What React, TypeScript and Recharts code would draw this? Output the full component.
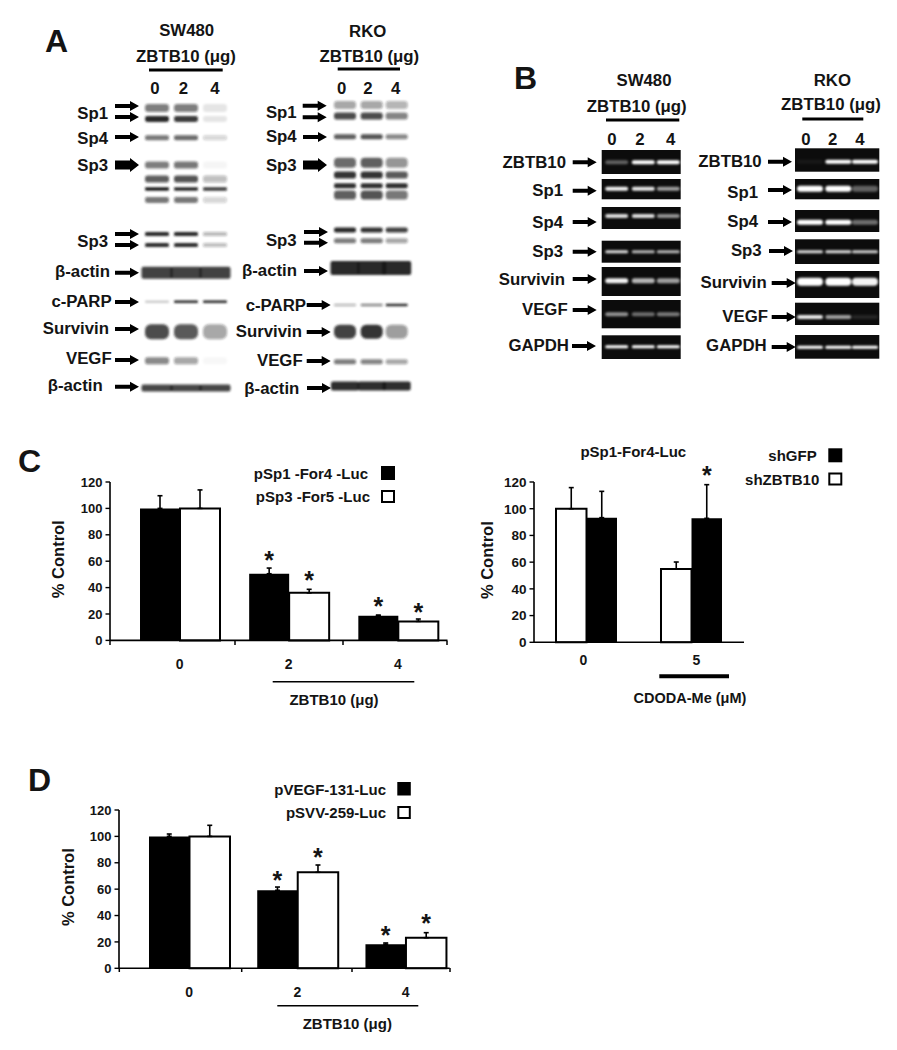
import React from 'react';
import { BarChart, Bar, XAxis, YAxis, ErrorBar, LabelList } from 'recharts';

const FONT = '"Liberation Sans", Arial, sans-serif';
const INK = '#141414';

// ---------- chart data ----------
const yTicks = [0, 20, 40, 60, 80, 100, 120];

const doseCategories = ['0', '2', '4'];
const cBlack = [100, 50.5, 18.7];
const cBlackErr = [9.6, 4.3, 0.5];
const cBlackStar = [null, 65, 30];
const cWhite = [100, 36, 14.4];
const cWhiteErr = [14, 2.7, 1.8];
const cWhiteStar = [null, 49.3, 25.3];

const cdodaCategories = ['0', '5'];
const c2White = [100, 54.9];
const c2WhiteErr = [15.8, 5.2];
const c2WhiteStar = [null, null];
const c2Black = [93.3, 92.8];
const c2BlackErr = [19.7, 25.2];
const c2BlackStar = [null, 128.7];

const dBlack = [100, 59.1, 18.2];
const dBlackErr = [1.8, 2.5, 1];
const dBlackStar = [null, 70.5, 28.8];
const dWhite = [100, 72.8, 23.2];
const dWhiteErr = [8.4, 5.5, 3.8];
const dWhiteStar = [null, 88.2, 38.2];

// ---------- blot band intensities (lanes 0, 2, 4); optional last item widens the band ----------
type BandRow = [number, number, number[], number?];
const aLeftBands: BandRow[] = [
  [108, 8, [0.55, 0.55, 0.1]], [119, 6, [0.95, 0.85, 0.1]], [137.7, 5, [0.6, 0.65, 0.18]],
  [165, 7, [0.55, 0.6, 0.04]], [179, 7, [0.7, 0.75, 0.28]], [189, 3.5, [1, 0.95, 0.85]], [200, 6, [0.6, 0.6, 0.18]],
  [234, 4, [0.95, 0.95, 0.3]], [245, 4, [0.9, 0.9, 0.28]], [272.7, 12, [0.82, 0.82, 0.82], 31],
  [301.7, 2.5, [0.2, 0.95, 0.95]], [331.7, 15, [0.78, 0.72, 0.38]], [360.7, 7, [0.5, 0.38, 0.03]], [388, 7, [0.8, 0.8, 0.8], 31],
];
const aRightBands: BandRow[] = [
  [105, 8, [0.38, 0.38, 0.32]], [116, 7, [0.78, 0.78, 0.52]], [136.7, 5, [0.7, 0.75, 0.5]],
  [162.7, 10, [0.65, 0.7, 0.45]], [175, 7, [0.88, 0.88, 0.72]], [185.7, 5, [0.9, 0.9, 0.9]], [195, 9, [0.7, 0.75, 0.6]],
  [230, 5, [0.92, 0.88, 0.82]], [240.7, 5, [0.58, 0.58, 0.38]], [268, 14, [0.92, 0.92, 0.92], 29],
  [305, 2.5, [0.3, 0.5, 0.9]], [331.7, 14, [0.82, 0.88, 0.42]], [361.7, 5, [0.58, 0.52, 0.38]], [386, 9, [0.9, 0.9, 0.9], 28],
];
// [top, bottom, band y, band h, intensities]
const bLeftGels: [number, number, number, number, number[]][] = [
  [150, 174, 162.3, 4, [0.35, 1, 1]], [179, 199.3, 188.7, 4, [0.95, 0.9, 0.6]], [207, 229, 216, 4, [0.85, 0.85, 0.55]],
  [240.7, 262.7, 251.7, 3, [0.85, 0.7, 0.7]], [267, 296, 280.7, 5, [0.95, 0.7, 0.6]], [300, 328.3, 314.3, 4, [0.55, 0.4, 0.45]],
  [335.3, 359, 346.7, 3, [1, 1, 1]],
];
const bRightGels: [number, number, number, number, number[]][] = [
  [148.3, 171.7, 161.7, 4, [0.05, 1, 1]], [179, 199.3, 188.7, 6, [1, 1, 0.35]], [210, 232, 222.3, 5, [1, 1, 0.4]],
  [239.3, 264, 251.7, 3, [0.85, 0.85, 0.8]], [271, 298, 281.7, 8, [1, 1, 0.95]], [302.7, 325, 317, 4, [0.9, 0.6, 0.1]],
  [335, 358.7, 347.3, 3, [1, 1, 1]],
];

// ---------- labels with arrows: text, right edge, text y, arrow x, arrow y, thick? ----------
type Lab = [string, number, number, number, number[], boolean?];
const aLeftLabels: Lab[] = [
  ['Sp1', 108, 113, 115, [106, 117]], ['Sp4', 108, 138, 115, [137]], ['Sp3', 108, 165, 115, [165], true],
  ['Sp3', 108, 241.7, 115, [234, 245]], ['β-actin', 110, 271.7, 115, [272.7]], ['c-PARP', 111.7, 301.7, 115, [302]],
  ['Survivin', 109, 328, 115, [329]], ['VEGF', 111.7, 358, 115, [360]], ['β-actin', 102.7, 385, 115, [386.7]],
];
const aRightLabels: Lab[] = [
  ['Sp1', 296.7, 112, 302.7, [105.7, 117.3]], ['Sp4', 296.7, 136.7, 303, [137]], ['Sp3', 296.7, 165, 303, [165], true],
  ['Sp3', 296.7, 240, 304, [232, 242.7]], ['β-actin', 297, 270.7, 304, [271]], ['c-PARP', 306, 305, 306.7, [305]],
  ['Survivin', 302, 331.7, 306.7, [332]], ['VEGF', 302.7, 360.7, 306.7, [361]], ['β-actin', 299.3, 388, 307, [388]],
];
const bLeftLabels: Lab[] = [
  ['ZBTB10', 566, 162.3, 572.7, [162.3]], ['Sp1', 563, 190.7, 572.7, [190.7]], ['Sp4', 563, 222, 572.7, [222]],
  ['Sp3', 563, 251.7, 572.7, [251.7]], ['Survivin', 565, 279, 572.7, [279]], ['VEGF', 567.7, 309, 572.7, [310]],
  ['GAPDH', 569, 345, 572, [346]],
];
const bRightLabels: Lab[] = [
  ['ZBTB10', 761.7, 161, 768, [161.7]], ['Sp1', 758, 192, 768, [190]], ['Sp4', 758, 221, 768, [222]],
  ['Sp3', 761.7, 250.7, 769, [251]], ['Survivin', 766.7, 282.7, 771.7, [283]], ['VEGF', 768, 316.7, 771.7, [317]],
  ['GAPDH', 766.7, 345.7, 771.7, [347]],
];

// ---------- small svg helpers ----------
const T = ({ x, y, s = 16.8, a = 'middle', children }: any) => (
  <text x={x} y={y} fontSize={s} fontWeight={700} fontFamily={FONT} fill={INK} textAnchor={a} dominantBaseline="central">
    {children}
  </text>
);
const Letter = ({ x, y, children }: any) => (
  <text x={x} y={y} fontSize={32} fontWeight={700} fontFamily={FONT} fill={INK}>{children}</text>
);
const Arrow = ({ x, y, thick }: any) => {
  const sh = thick ? 4.5 : 2;
  const hd = thick ? 7 : 5;
  const end = x + 24;
  const neck = end - 9;
  return (
    <polygon fill="#000" points={`${x},${y - sh} ${neck},${y - sh} ${neck},${y - hd} ${end},${y} ${neck},${y + hd} ${neck},${y + sh} ${x},${y + sh}`} />
  );
};
const Labels = ({ list }: { list: Lab[] }) => (
  <>
    {list.map(([t, r, y, ax, ays, thick], i) => (
      <g key={i}>
        <T x={r} y={y} a="end">{t}</T>
        {ays.map((ay, j) => <Arrow key={j} x={ax} y={ay} thick={thick} />)}
      </g>
    ))}
  </>
);
const Head = ({ name, nx, ny, zx, zy, x1, x2, ly, lanes, laneY }: any) => (
  <>
    <T x={nx} y={ny}>{name}</T>
    <T x={zx} y={zy}>ZBTB10 (μg)</T>
    <line x1={x1} x2={x2} y1={ly} y2={ly} stroke="#000" strokeWidth={3} />
    {doseCategories.map((c, i) => <T key={c} x={lanes[i]} y={laneY}>{c}</T>)}
  </>
);
const WesternBands = ({ rows, lanes, w }: any) => (
  <g filter="url(#soft)">
    {rows.map(([y, h, ints, wide]: any, i: number) =>
      ints.map((v: number, j: number) => {
        const bw = wide || w;
        return <rect key={`${i}-${j}`} x={lanes[j] - bw / 2} y={y - h / 2} width={bw} height={h} rx={wide ? 2 : h / 2.5} fill="#1a1a1a" opacity={v} />;
      }),
    )}
  </g>
);
const Gels = ({ rows, lanes, x1, x2, w }: any) => (
  <>
    {rows.map(([t, b]: any, i: number) => (
      <rect key={i} x={x1} y={t} width={x2 - x1} height={b - t} fill="#0c0c0c" />
    ))}
    <g filter="url(#glow)">
      {rows.map(([, , y, h, ints]: any, i: number) =>
        ints.map((v: number, j: number) => (
          <rect key={`${i}-${j}`} x={lanes[j] - w / 2} y={y - h / 2} width={w} height={h} rx={h / 2} fill="#fff" opacity={v} />
        )),
      )}
    </g>
  </>
);
const Swatch = ({ x, y, w, h, fill }: any) => (
  <rect x={x + 1} y={y + 1} width={w - 2} height={h - 2} fill={fill} stroke="#000" strokeWidth={2} />
);

// ---------- bar chart ----------
const starContent = (bottomOf: () => number, pxPerUnit: number) => (p: any) => {
  if (p.value == null) return null;
  const cx = p.x + p.width / 2;
  return (
    <text x={cx} y={bottomOf() - p.value * pxPerUnit + 14} textAnchor="middle" fontSize={25} fontWeight={700} fontFamily={FONT} fill={INK}>
      *
    </text>
  );
};

function Panel({ cats, first, second, left, plotTop, plotW, plotH, axisW, pad, barSize, fs, xfs, labelDy, nudges }: any) {
  const top = 34;
  const rows = cats.map((c: string, i: number) => ({
    dose: c,
    a: first.values[i], aErr: [0, first.err[i]], aStar: first.star[i],
    b: second.values[i], bErr: [0, second.err[i]], bStar: second.star[i],
  }));
  const ppu = plotH / 120;
  const bottomOf = () => top + plotH;
  const tick = (p: any) => (
    <text x={p.x + (nudges ? nudges[p.index] : 0)} y={p.y + labelDy} textAnchor="middle" dominantBaseline="central"
      fontSize={xfs} fontWeight={700} fontFamily={FONT} fill={INK}>
      {p.payload.value}
    </text>
  );
  return (
    <div style={{ position: 'absolute', left: left - axisW, top: plotTop - top }}>
      <BarChart width={axisW + plotW + 24} height={top + plotH + 40} data={rows} barGap={0} barSize={barSize}
        margin={{ top, right: 24, left: 0, bottom: 0 }} style={{ overflow: 'visible' }}>
        <XAxis dataKey="dose" height={40} axisLine={{ stroke: '#000', strokeWidth: 1.6 }} tickLine={false} tickSize={0} tickMargin={0}
          padding={pad} tick={tick} interval={0} />
        <YAxis width={axisW} domain={[0, 120]} ticks={yTicks} interval={0} axisLine={{ stroke: '#000', strokeWidth: 1.6 }}
          tickLine={{ stroke: '#000', strokeWidth: 1.4 }} tickSize={4.5} tickMargin={3}
          tick={{ fontSize: fs, fontWeight: 700, fontFamily: FONT, fill: INK }}
          label={{ value: '% Control', angle: -90, position: 'center', dy: -2, style: { fontSize: 16.5, fontWeight: 700, fontFamily: FONT, fill: INK } }} />
        {[{ s: first, k: 'a' }, { s: second, k: 'b' }].map(({ s, k }) => (
          <Bar key={k} dataKey={k} name={s.name} fill={s.fill} stroke="#000" strokeWidth={s.fill === '#000' ? 0 : 2} isAnimationActive={false}>
            <ErrorBar dataKey={`${k}Err`} direction="y" width={2.5} strokeWidth={1.6} stroke="#000" isAnimationActive={false} />
            <LabelList dataKey={`${k}Star`} content={starContent(bottomOf, ppu)} />
          </Bar>
        ))}
      </BarChart>
    </div>
  );
}

const aL = [157, 186, 215];
const aR = [345, 371.7, 396.7];
const bL = [616.7, 643.3, 668.3];
const bR = [810, 838.3, 865];

export default function App() {
  return (
    <div style={{ position: 'absolute', left: 0, top: 0, width: 897, height: 1050, background: '#fff', overflow: 'hidden' }}>
      <svg width={897} height={1050} style={{ position: 'absolute', left: 0, top: 0 }}>
        <defs>
          <filter id="soft" x="-10%" y="-10%" width="120%" height="120%"><feGaussianBlur stdDeviation="1.3" /></filter>
          <filter id="glow" x="-10%" y="-10%" width="120%" height="120%"><feGaussianBlur stdDeviation="0.8" /></filter>
        </defs>

        <Letter x={45} y={51.7}>A</Letter>
        <Head name="SW480" nx={186.7} ny={30.7} zx={186} zy={56} x1={149} x2={222.7} ly={70} lanes={[155, 183.3, 215]} laneY={88} />
        <WesternBands rows={aLeftBands} lanes={aL} w={24} />
        <Labels list={aLeftLabels} />
        <Head name="RKO" nx={367.7} ny={31.7} zx={369.3} zy={56.7} x1={337.7} x2={400} ly={69} lanes={[341.7, 368, 395.7]} laneY={88} />
        <WesternBands rows={aRightBands} lanes={aR} w={22} />
        <Labels list={aRightLabels} />

        <Letter x={514} y={89.3}>B</Letter>
        <Head name="SW480" nx={644} ny={80.7} zx={636.7} zy={106} x1={606} x2={679.3} ly={120} lanes={[612, 640, 670.7]} laneY={139} />
        <Gels rows={bLeftGels} lanes={bL} x1={601.7} x2={680.7} w={23} />
        <Labels list={bLeftLabels} />
        <Head name="RKO" nx={832.3} ny={80} zx={831} zy={104} x1={802.3} x2={863.3} ly={119} lanes={[806, 832.7, 860]} laneY={139} />
        <Gels rows={bRightGels} lanes={bR} x1={795} x2={879.3} w={26} />
        <Labels list={bRightLabels} />

        <Letter x={18} y={471.7}>C</Letter>
        <T x={368} y={473} s={15} a="end">pSp1 -For4 -Luc</T>
        <Swatch x={381} y={466} w={14} h={14} fill="#000" />
        <T x={370} y={496} s={15} a="end">pSp3 -For5 -Luc</T>
        <Swatch x={381} y={490} w={14} h={13} fill="#fff" />
        {[110, 235, 343, 447].map((x) => <line key={x} x1={x} x2={x} y1={640.7} y2={645} stroke="#000" strokeWidth={1.5} />)}
        <line x1={272.7} x2={414.3} y1={681.7} y2={681.7} stroke="#000" strokeWidth={1.6} />
        <T x={334} y={699.3} s={15}>ZBTB10 (μg)</T>

        <T x={633.3} y={451.7} s={15}>pSp1-For4-Luc</T>
        <T x={816.7} y={455} s={15} a="end">shGFP</T>
        <Swatch x={828.3} y={448.3} w={14} h={14} fill="#000" />
        <T x={819.3} y={479.3} s={15} a="end">shZBTB10</T>
        <Swatch x={828.3} y={472.5} w={14} h={13} fill="#fff" />
        <line x1={659.3} x2={729} y1={676.3} y2={676.3} stroke="#000" strokeWidth={4} />
        <T x={690} y={698.3} s={14.5}>CDODA-Me (μM)</T>

        <Letter x={28} y={790.7}>D</Letter>
        <T x={386} y={789.3} s={15} a="end">pVEGF-131-Luc</T>
        <Swatch x={397.3} y={782} w={13.5} h={13.5} fill="#000" />
        <T x={386} y={812.7} s={15} a="end">pSVV-259-Luc</T>
        <Swatch x={397.3} y={806} w={13.5} h={13} fill="#fff" />
        {[119.3, 241.7, 352, 450].map((x) => <line key={x} x1={x} x2={x} y1={968} y2={972} stroke="#000" strokeWidth={1.5} />)}
        <line x1={277.3} x2={418.3} y1={1005.7} y2={1005.7} stroke="#000" strokeWidth={1.6} />
        <T x={347.3} y={1023.3} s={15}>ZBTB10 (μg)</T>
      </svg>

      <Panel cats={doseCategories}
        first={{ name: 'pSp1-For4-Luc', fill: '#000', values: cBlack, err: cBlackErr, star: cBlackStar }}
        second={{ name: 'pSp3-For5-Luc', fill: '#fff', values: cWhite, err: cWhiteErr, star: cWhiteStar }}
        left={109.5} plotTop={482.3} plotW={337.5} plotH={158.4} axisW={103} pad={{ left: 15, right: -5 }} barSize={40} fs={13} xfs={14} labelDy={24} />
      <Panel cats={cdodaCategories}
        first={{ name: 'shZBTB10', fill: '#fff', values: c2White, err: c2WhiteErr, star: c2WhiteStar }}
        second={{ name: 'shGFP', fill: '#000', values: c2Black, err: c2BlackErr, star: c2BlackStar }}
        left={534.3} plotTop={481.7} plotW={210} plotH={160.3} axisW={94} pad={{ left: 0, right: 0 }} barSize={30.5} fs={13.5} xfs={14} labelDy={17.5} nudges={[-3, 5]} />
      <Panel cats={doseCategories}
        first={{ name: 'pVEGF-131-Luc', fill: '#000', values: dBlack, err: dBlackErr, star: dBlackStar }}
        second={{ name: 'pSVV-259-Luc', fill: '#fff', values: dWhite, err: dWhiteErr, star: dWhiteStar }}
        left={119.3} plotTop={809.7} plotW={330.7} plotH={158.3} axisW={102} pad={{ left: 16, right: -10 }} barSize={40.5} fs={13} xfs={14} labelDy={24} />
    </div>
  );
}
